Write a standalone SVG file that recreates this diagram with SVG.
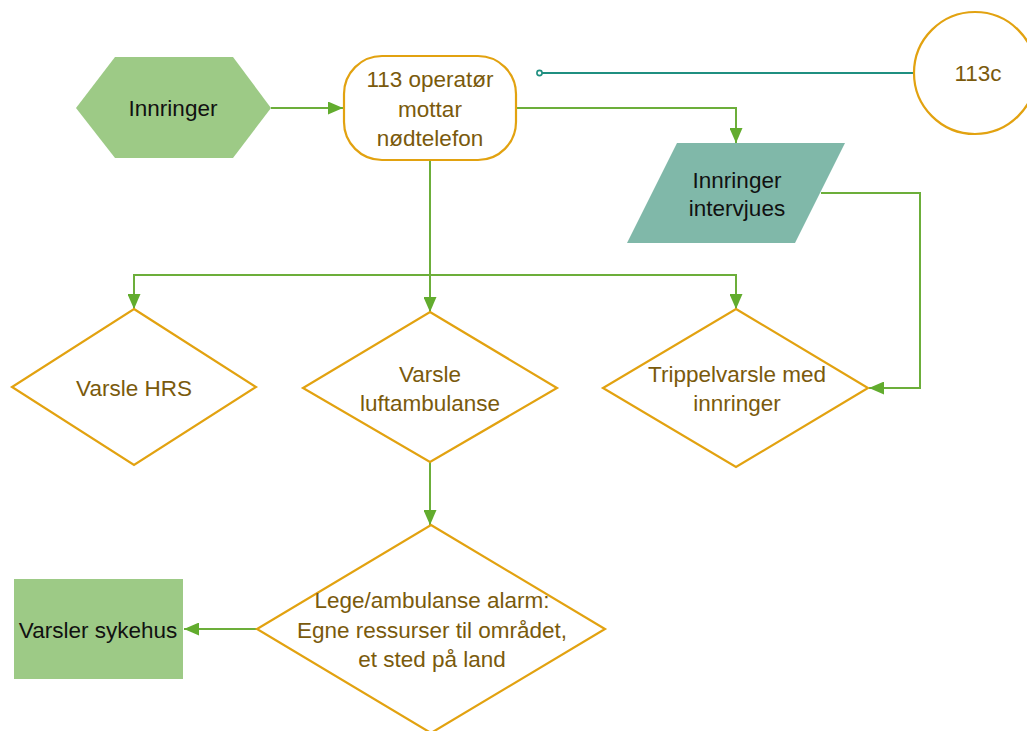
<svg xmlns="http://www.w3.org/2000/svg" width="1027" height="731" viewBox="0 0 1027 731">
  <style>
    .outline { fill: #ffffff; stroke: #E2A210; stroke-width: 2.2; }
    .green { fill: #9DCA86; stroke: none; }
    .teal { fill: #80B8A9; stroke: none; }
    .lbl { font-family: "Liberation Sans", Arial, sans-serif; font-size: 22.5px; text-anchor: middle; }
    .brown { fill: #7A5A0C; }
    .dark { fill: #111111; }
    .flow { fill: none; stroke: #6CAE3A; stroke-width: 2; marker-end: url(#arrow); }
    .link { fill: none; stroke: #1F8F80; stroke-width: 2; }
  </style>
  <defs>
    <marker id="arrow" markerUnits="userSpaceOnUse" markerWidth="15" markerHeight="13" refX="15" refY="6.5" orient="auto">
      <path d="M0,0 L15,6.5 L0,13 z" fill="#62AC2E"/>
    </marker>
  </defs>
  <rect width="1027" height="731" fill="#ffffff"/>

  <!-- connectors -->
  <g id="connectors">
    <path class="flow" d="M271,108 H343"/>
    <path class="flow" d="M516,108 H736 V143"/>
    <path class="flow" d="M430,160 V312"/>
    <path class="flow" d="M430,275 H134 V309"/>
    <path class="flow" d="M430,275 H736 V309"/>
    <path class="flow" d="M821,193 H920 V388 H869"/>
    <path class="flow" d="M430,462 V525"/>
    <path class="flow" d="M257,629 H184"/>
    <path class="link" d="M542,73 H913"/>
    <circle cx="539.5" cy="73" r="2.6" fill="#ffffff" stroke="#1F8F80" stroke-width="1.6"/>
  </g>

  <g id="innringer">
    <polygon class="green" points="76,108 115,57 233,57 271,108 233,158 115,158"/>
    <text class="lbl dark" x="173" y="116">Innringer</text>
  </g>

  <g id="operator">
    <rect class="outline" x="344" y="56" width="172" height="104" rx="38" ry="38"/>
    <text class="lbl brown" x="430" y="87">113 operatør</text>
    <text class="lbl brown" x="430" y="117">mottar</text>
    <text class="lbl brown" x="430" y="146">nødtelefon</text>
  </g>

  <g id="c113">
    <circle class="outline" cx="975" cy="73" r="61"/>
    <text class="lbl brown" x="978" y="81">113c</text>
  </g>

  <g id="intervju">
    <polygon class="teal" points="677,143 845,143 795,243 627,243"/>
    <text class="lbl dark" x="737" y="188">Innringer</text>
    <text class="lbl dark" x="737" y="216">intervjues</text>
  </g>

  <g id="hrs">
    <polygon class="outline" points="134,309 256,387 134,465 12,387"/>
    <text class="lbl brown" x="134" y="396">Varsle HRS</text>
  </g>

  <g id="luftambulanse">
    <polygon class="outline" points="430,312 557,388 430,462 303,388"/>
    <text class="lbl brown" x="430" y="382">Varsle</text>
    <text class="lbl brown" x="430" y="411">luftambulanse</text>
  </g>

  <g id="trippelvarsle">
    <polygon class="outline" points="736,309 868,388 736,467 603,388"/>
    <text class="lbl brown" x="737" y="382">Trippelvarsle med</text>
    <text class="lbl brown" x="737" y="411">innringer</text>
  </g>

  <g id="alarm">
    <polygon class="outline" points="431,525 605,629 431,733 257,629"/>
    <text class="lbl brown" x="432" y="608">Lege/ambulanse alarm:</text>
    <text class="lbl brown" x="432" y="638">Egne ressurser til området,</text>
    <text class="lbl brown" x="432" y="667">et sted på land</text>
  </g>

  <g id="sykehus">
    <rect class="green" x="14" y="579" width="169" height="100"/>
    <text class="lbl dark" x="98" y="638">Varsler sykehus</text>
  </g>
</svg>
